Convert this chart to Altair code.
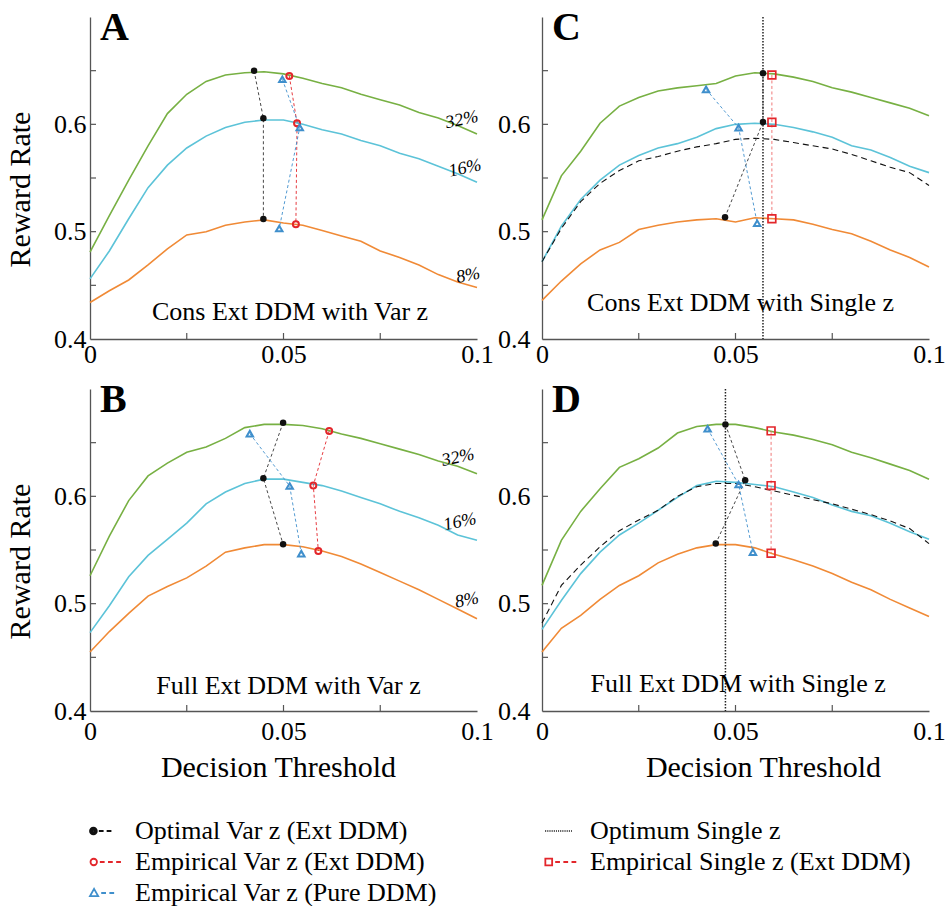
import altair as alt
import pandas as pd

# ---------------- data ----------------
THRESH = [0.000, 0.005, 0.010, 0.015, 0.020, 0.025, 0.030, 0.035, 0.040, 0.045, 0.050,
          0.055, 0.060, 0.065, 0.070, 0.075, 0.080, 0.085, 0.090, 0.095, 0.100]

# Panel A: Cons Ext DDM with Var z
A_32 = [0.481, 0.515, 0.548, 0.580, 0.610, 0.628, 0.640, 0.646, 0.648, 0.649, 0.647,
        0.643, 0.638, 0.634, 0.628, 0.623, 0.618, 0.611, 0.606, 0.599, 0.591]
A_16 = [0.456, 0.482, 0.512, 0.541, 0.562, 0.578, 0.589, 0.597, 0.602, 0.604, 0.604,
        0.600, 0.595, 0.591, 0.585, 0.580, 0.573, 0.568, 0.561, 0.554, 0.546]
A_8 = [0.434, 0.445, 0.455, 0.469, 0.484, 0.497, 0.500, 0.506, 0.509, 0.511, 0.508,
       0.506, 0.501, 0.496, 0.491, 0.482, 0.476, 0.469, 0.460, 0.453, 0.448]

# Panel B: Full Ext DDM with Var z
B_32 = [0.526, 0.563, 0.596, 0.619, 0.631, 0.641, 0.646, 0.654, 0.664, 0.667, 0.667,
        0.666, 0.663, 0.658, 0.654, 0.649, 0.644, 0.639, 0.633, 0.628, 0.621]
B_16 = [0.473, 0.498, 0.525, 0.545, 0.560, 0.575, 0.593, 0.604, 0.612, 0.616, 0.616,
        0.613, 0.610, 0.605, 0.599, 0.593, 0.586, 0.580, 0.573, 0.564, 0.559]
B_8 = [0.455, 0.474, 0.491, 0.507, 0.516, 0.524, 0.535, 0.548, 0.552, 0.555, 0.555,
       0.553, 0.549, 0.544, 0.537, 0.529, 0.521, 0.513, 0.504, 0.495, 0.486]

# Panel C: Cons Ext DDM with Single z
C_32 = [0.511, 0.552, 0.575, 0.601, 0.617, 0.625, 0.631, 0.634, 0.636, 0.638, 0.645,
        0.648, 0.647, 0.644, 0.640, 0.634, 0.630, 0.625, 0.620, 0.615, 0.608]
C_16 = [0.472, 0.505, 0.530, 0.548, 0.562, 0.571, 0.578, 0.582, 0.588, 0.596, 0.600,
        0.601, 0.600, 0.597, 0.593, 0.588, 0.580, 0.576, 0.569, 0.561, 0.555]
C_8 = [0.436, 0.454, 0.470, 0.483, 0.490, 0.502, 0.506, 0.509, 0.511, 0.512, 0.509,
       0.513, 0.512, 0.511, 0.507, 0.502, 0.498, 0.491, 0.483, 0.476, 0.467]
C_SINGLE = [0.472, 0.503, 0.528, 0.545, 0.557, 0.566, 0.570, 0.575, 0.579, 0.582, 0.586,
            0.587, 0.586, 0.583, 0.580, 0.577, 0.572, 0.566, 0.560, 0.555, 0.543]

# Panel D: Full Ext DDM with Single z
D_32 = [0.517, 0.559, 0.586, 0.607, 0.627, 0.635, 0.645, 0.659, 0.665, 0.667, 0.667,
        0.664, 0.660, 0.657, 0.653, 0.648, 0.641, 0.636, 0.630, 0.624, 0.616]
D_16 = [0.476, 0.503, 0.528, 0.548, 0.564, 0.575, 0.587, 0.599, 0.610, 0.614, 0.613,
        0.611, 0.609, 0.604, 0.599, 0.592, 0.586, 0.582, 0.575, 0.567, 0.560]
D_8 = [0.455, 0.477, 0.489, 0.504, 0.517, 0.526, 0.538, 0.546, 0.552, 0.555, 0.555,
       0.552, 0.546, 0.541, 0.535, 0.528, 0.520, 0.513, 0.504, 0.496, 0.488]
D_SINGLE = [0.482, 0.517, 0.536, 0.553, 0.568, 0.578, 0.587, 0.600, 0.609, 0.612, 0.612,
            0.609, 0.605, 0.601, 0.597, 0.593, 0.588, 0.583, 0.577, 0.570, 0.556]

# markers (order: 32%, 16%, 8%)
A_OPT_X, A_OPT_Y = [0.0424, 0.0448, 0.0448], [0.650, 0.6056, 0.5117]
A_EMP_X, A_EMP_Y = [0.0515, 0.0535, 0.0532], [0.645, 0.601, 0.5068]
A_PURE_X, A_PURE_Y = [0.0497, 0.0542, 0.0489], [0.642, 0.597, 0.503]

B_OPT_X, B_OPT_Y = [0.0499, 0.0448, 0.0499], [0.6686, 0.6168, 0.5553]
B_EMP_X, B_EMP_Y = [0.0618, 0.0577, 0.0590], [0.6609, 0.6102, 0.5491]
B_PURE_X, B_PURE_Y = [0.0413, 0.0516, 0.0546], [0.6584, 0.6096, 0.5466]

C_OPT_X, C_OPT_Y = [0.0571, 0.0571, 0.0473], [0.6476, 0.6022, 0.5135]
C_SGL_X, C_SGL_Y = [0.0594, 0.0594, 0.0594], [0.646, 0.602, 0.512]
C_PURE_X, C_PURE_Y = [0.0424, 0.0508, 0.0556], [0.6326, 0.5969, 0.5078]
C_VLINE = 0.0571

D_OPT_X, D_OPT_Y = [0.0474, 0.0525, 0.0449], [0.667, 0.615, 0.556]
D_SGL_X, D_SGL_Y = [0.0592, 0.0592, 0.0592], [0.661, 0.610, 0.547]
D_PURE_X, D_PURE_Y = [0.0428, 0.0508, 0.0545], [0.663, 0.611, 0.548]
D_VLINE = 0.0474

PCTS = ["32%", "16%", "8%"]
TITLES = {"A": "Cons Ext DDM with Var z", "B": "Full Ext DDM with Var z",
          "C": "Cons Ext DDM with Single z", "D": "Full Ext DDM with Single z"}
TITLE_POS = {"A": (0.0517, 0.4255), "B": (0.0513, 0.423), "C": (0.0513, 0.434), "D": (0.0507, 0.4255)}
LETTER_POS = (0.0026, 0.679)
PCT_POS = {"A": ([0.0961, 0.0969, 0.0977], [0.604, 0.559, 0.459]),
           "B": ([0.0951, 0.0956, 0.0974], [0.636, 0.576, 0.503])}

X_TICKS = [0.025, 0.05, 0.075]
Y_TICKS = [0.45, 0.5, 0.55, 0.6, 0.65]

LEG_NAMES = ["Optimal Var z (Ext DDM)", "Empirical Var z (Ext DDM)", "Empirical Var z (Pure DDM)",
             "Optimum Single z", "Empirical Single z (Ext DDM)"]

# ---------------- styles ----------------
FONT = "Liberation Serif"
GREEN, CYAN, ORANGE = "#77B043", "#5CC3D8", "#F08A36"
RED, BLUE, BLACK = "#E3262B", "#3F8FCC", "#111111"
W, H = 387, 322
XS = alt.Scale(domain=[0, 0.1], nice=False, zero=False)
YS = alt.Scale(domain=[0.4, 0.7], nice=False, zero=False)


def circle_path(cx, r):
    return f"M{cx - r},0A{r},{r} 0 1,0 {cx + r},0A{r},{r} 0 1,0 {cx - r},0Z"


def dashes(segs):
    return "".join(f"M{a},0L{b},0" for a, b in segs)


LEG_PATHS = [
    circle_path(-0.8, 0.2) + circle_path(-0.8, 0.12) + circle_path(-0.8, 0.04)
    + dashes([(-0.48, -0.2), (-0.02, 0.26)]),
    circle_path(-0.78, 0.19) + dashes([(-0.42, -0.14), (0.06, 0.34), (0.54, 0.82)]),
    "M-0.76,-0.24L-0.52,0.18L-1.0,0.18Z" + dashes([(-0.34, -0.06), (0.14, 0.42)]),
    dashes([(-1 + 0.11 * i, -0.96 + 0.11 * i) for i in range(15)]),
    "M-0.98,-0.2L-0.58,-0.2L-0.58,0.2L-0.98,0.2Z" + dashes([(-0.4, -0.12), (0.08, 0.36), (0.56, 0.84)]),
]
LEG_COLORS = [BLACK, RED, BLUE, BLACK, RED]


def curves_df(c32, c16, c8):
    rows = []
    for name, vals in zip(PCTS, (c32, c16, c8)):
        for t, v in zip(THRESH, vals):
            rows.append({"x": t, "y": v, "pct": name})
    return pd.DataFrame(rows)


def pts_df(xs, ys):
    return pd.DataFrame({"x": xs, "y": ys, "lvl": [0, 1, 2]})


def enc_xy(base):
    return base.encode(x=alt.X("x:Q", scale=XS), y=alt.Y("y:Q", scale=YS))


STYLES = {
    "opt": dict(shape="circle", filled=True, color=BLACK, size=42, opacity=1),
    "emp": dict(shape="circle", filled=False, color=RED, size=36, strokeWidth=2, opacity=1),
    "pure": dict(shape="triangle-up", filled=False, color=BLUE, size=42, strokeWidth=2, opacity=1),
    "sgl": dict(shape="square", filled=False, color=RED, size=60, strokeWidth=1.7, opacity=1),
}
CONN_COLORS = {"opt": "#333333", "emp": RED, "sgl": "#EE6A6A", "pure": BLUE}


def panel(key, curves, markers, single=None, vline=None, left=True, top=True):
    xaxis = alt.Axis(values=[0, 0.05, 0.1], format="~g", labelFont=FONT, labelFontSize=26,
                     labelColor="black", labelPadding=2 if top else 7, labelOverlap=False,
                     labelFlush=False, ticks=False, grid=False, domainColor="#555",
                     domainWidth=1.3, title=None if top else "Decision Threshold",
                     titleFont=FONT, titleFontSize=30, titleFontWeight="normal",
                     titleColor="black", titlePadding=8, titleX=188 if left else 221)
    yaxis = alt.Axis(values=[0.4, 0.5, 0.6], format=".1f", labelFont=FONT, labelFontSize=26,
                     labelColor="black", labelPadding=4 if left else 12, labelOverlap=False,
                     labelFlush=False, ticks=False, grid=False, domainColor="#555",
                     domainWidth=1.3, title="Reward Rate" if left else None,
                     titleFont=FONT, titleFontSize=30, titleFontWeight="normal",
                     titleColor="black", titlePadding=18, titleY=172)
    layers = [
        alt.Chart(curves_df(*curves)).mark_line(strokeWidth=1.6).encode(
            x=alt.X("x:Q", scale=XS, axis=xaxis),
            y=alt.Y("y:Q", scale=YS, axis=yaxis),
            color=alt.Color("pct:N", scale=alt.Scale(domain=PCTS, range=[GREEN, CYAN, ORANGE]),
                            legend=None),
        )
    ]
    if single is not None:
        layers.append(enc_xy(alt.Chart(pd.DataFrame({"x": THRESH, "y": single})).mark_line(
            color=BLACK, strokeWidth=1.1, strokeDash=[6, 4])))
    if vline is not None:
        layers.append(alt.Chart(pd.DataFrame({"x": [vline]})).mark_rule(
            color="#222", strokeWidth=1.5, strokeDash=[1.5, 1.5]).encode(
            x=alt.X("x:Q", scale=XS)))
    for (xs, ys), kind in markers:
        layers.append(enc_xy(alt.Chart(pts_df(xs, ys)).mark_line(
            color=CONN_COLORS[kind], strokeWidth=0.9, strokeDash=[3, 2.5])).encode(order="lvl:Q"))
    for (xs, ys), kind in markers:
        layers.append(enc_xy(alt.Chart(pts_df(xs, ys)).mark_point(**STYLES[kind])))
    # inward ticks
    layers.append(alt.Chart(pd.DataFrame({"x": X_TICKS})).mark_rule(color="#555", strokeWidth=1.2).encode(
        x=alt.X("x:Q", scale=XS), y=alt.value(H), y2=alt.value(H - 6)))
    layers.append(alt.Chart(pd.DataFrame({"y": Y_TICKS})).mark_rule(color="#555", strokeWidth=1.2).encode(
        y=alt.Y("y:Q", scale=YS), x=alt.value(0), x2=alt.value(6)))
    # texts
    tx, ty = TITLE_POS[key]
    layers.append(enc_xy(alt.Chart(pd.DataFrame({"x": [tx], "y": [ty], "t": [TITLES[key]]})).mark_text(
        font=FONT, fontSize=26, color="black", align="center", baseline="middle")).encode(text="t:N"))
    layers.append(enc_xy(alt.Chart(pd.DataFrame({"x": [LETTER_POS[0]], "y": [LETTER_POS[1]], "t": [key]})).mark_text(
        font=FONT, fontSize=40, fontWeight="bold", color="black", align="left",
        baseline="alphabetic")).encode(text="t:N"))
    if key in PCT_POS:
        px, py = PCT_POS[key]
        layers.append(enc_xy(alt.Chart(pd.DataFrame({"x": px, "y": py, "t": PCTS})).mark_text(
            font=FONT, fontSize=18, fontStyle="italic", color="black", align="center",
            baseline="middle", angle=348)).encode(text="t:N"))
    return alt.layer(*layers).properties(width=W, height=H)


MARKERS = {
    "A": [((A_OPT_X, A_OPT_Y), "opt"), ((A_EMP_X, A_EMP_Y), "emp"), ((A_PURE_X, A_PURE_Y), "pure")],
    "B": [((B_OPT_X, B_OPT_Y), "opt"), ((B_EMP_X, B_EMP_Y), "emp"), ((B_PURE_X, B_PURE_Y), "pure")],
    "C": [((C_OPT_X, C_OPT_Y), "opt"), ((C_SGL_X, C_SGL_Y), "sgl"), ((C_PURE_X, C_PURE_Y), "pure")],
    "D": [((D_OPT_X, D_OPT_Y), "opt"), ((D_SGL_X, D_SGL_Y), "sgl"), ((D_PURE_X, D_PURE_Y), "pure")],
}

pA = panel("A", (A_32, A_16, A_8), MARKERS["A"], left=True, top=True)
pC = panel("C", (C_32, C_16, C_8), MARKERS["C"], single=C_SINGLE, vline=C_VLINE, left=False, top=True)
pB = panel("B", (B_32, B_16, B_8), MARKERS["B"], left=True, top=False)
pD = panel("D", (D_32, D_16, D_8), MARKERS["D"], single=D_SINGLE, vline=D_VLINE, left=False, top=False)

leg_props = dict(orient="none", legendX=-1, legendY=52, columns=2, columnPadding=104,
                 rowPadding=0, symbolSize=1156, symbolStrokeWidth=1.8, symbolOpacity=1,
                 labelFont=FONT, labelFontSize=26, labelColor="black", labelLimit=700,
                 labelOffset=10, title=None, padding=0)
legend_view = alt.Chart(pd.DataFrame({"name": LEG_NAMES})).mark_point(opacity=0, filled=False).encode(
    shape=alt.Shape("name:N", scale=alt.Scale(domain=LEG_NAMES, range=LEG_PATHS),
                    legend=alt.Legend(**leg_props)),
    color=alt.Color("name:N", scale=alt.Scale(domain=LEG_NAMES, range=LEG_COLORS),
                    legend=alt.Legend(**leg_props)),
).properties(width=W, height=20)

chart = alt.concat(pA, pC, pB, pD, legend_view, columns=2,
                   spacing={"row": 50, "column": 65}, bounds="flush").resolve_scale(
    color="independent", shape="independent").properties(
    padding={"left": 5, "top": 7, "right": 0, "bottom": 0}).configure_view(strokeWidth=0)

chart.save("out.html", embed_options={"renderer": "svg", "actions": False})
